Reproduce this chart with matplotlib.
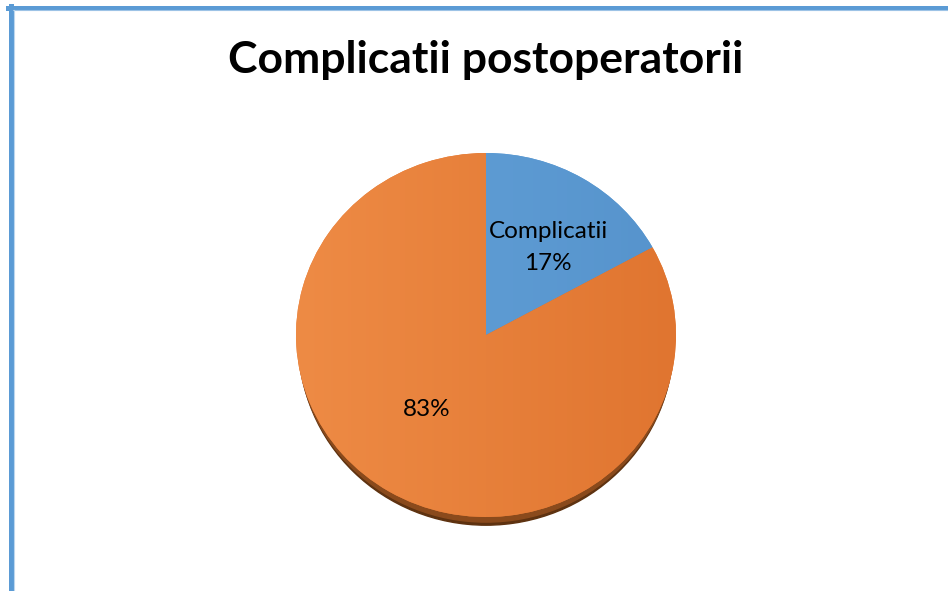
import matplotlib.pyplot as plt
import numpy as np
from matplotlib.patches import Ellipse
from matplotlib.lines import Line2D
from matplotlib.colors import LinearSegmentedColormap

labels = ['Complicatii', '']
values = [17, 83]
colors = ['#5B9BD5', '#E67B35']
title = 'Complicatii postoperatorii'

W, H = 948, 591
fig = plt.figure(figsize=(W / 100, H / 100), dpi=100)
fig.patch.set_facecolor('white')

# frame of the chart area (blue border on top and left)
fig.add_artist(Line2D([8 / W, 1], [1 - 8 / H, 1 - 8 / H], color='#5B9BD5', lw=3.6, transform=fig.transFigure))
fig.add_artist(Line2D([10.5 / W, 10.5 / W], [0, 1 - 6 / H], color='#5B9BD5', lw=3.6, transform=fig.transFigure))
fig.add_artist(Line2D([13 / W, 1], [1 - 10 / H, 1 - 10 / H], color='#9DC3E6', lw=0.8, transform=fig.transFigure))
fig.add_artist(Line2D([13.5 / W, 13.5 / W], [0, 1 - 10 / H], color='#BDD7EE', lw=0.8, transform=fig.transFigure))

fig.text(486 / W, 1 - 60 / H, title, ha='center', va='center',
         fontsize=32, fontweight='bold', family=['Lato', 'DejaVu Sans'])

# pie, slightly squashed vertically
cx, cy, rx, ry = 486, 335, 190, 182
ax = fig.add_axes([(cx - rx) / W, 1 - (cy + ry) / H, 2 * rx / W, 2 * ry / H])
# thin 3D rim under the pie
ax.add_patch(Ellipse((0, -0.045), 1.97, 2, color='#5E3210', zorder=0, clip_on=False))
ax.add_patch(Ellipse((0, -0.028), 1.98, 2, color='#8A4A1C', zorder=0, clip_on=False))
wedges, _ = ax.pie(values, colors=colors, startangle=90, counterclock=False,
                   wedgeprops=dict(linewidth=0))

# light gradient over the wedges
grad = np.linspace(0, 1, 256).reshape(1, -1)
for w, pair in zip(wedges, [['#64A3DA', '#5693CC'], ['#EE8B45', '#E07530']]):
    cm = LinearSegmentedColormap.from_list('g', pair)
    im = ax.imshow(grad, extent=[-1, 1, -1, 1], cmap=cm, aspect='auto', zorder=2)
    im.set_clip_path(w)

ax.set_xlim(-1, 1)
ax.set_ylim(-1, 1)
ax.set_aspect('auto')
ax.axis('off')

fs = dict(fontsize=17.5, family=['Lato', 'DejaVu Sans'], color='black', ha='center', va='center')
ax.text((548 - cx) / rx, (cy - 231) / ry, labels[0], zorder=5, **fs)
ax.text((548 - cx) / rx, (cy - 264) / ry, '%d%%' % values[0], zorder=5, **fs)
ax.text((427 - cx) / rx, (cy - 410) / ry, '%d%%' % values[1], zorder=5, **fs)

fig.savefig('out.png', dpi=100)
